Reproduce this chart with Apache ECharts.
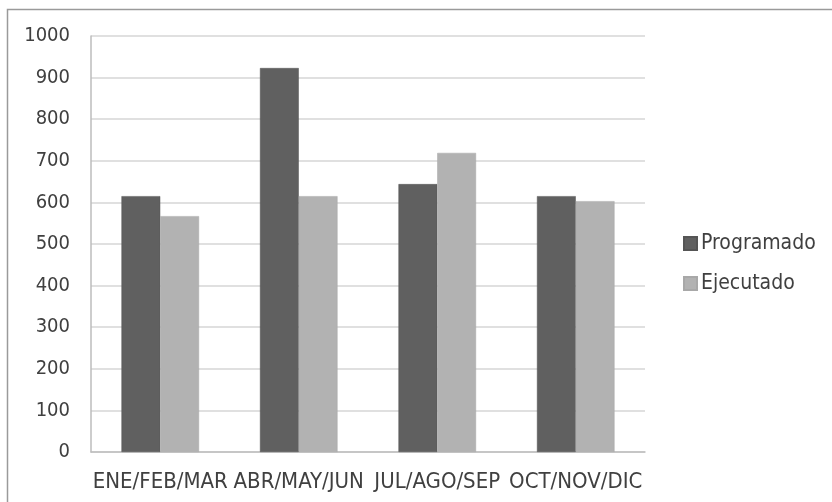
<!DOCTYPE html>
<html><head><meta charset="utf-8">
<script src="https://cdn.jsdelivr.net/npm/echarts@6/dist/echarts.min.js"></script>
<style>html,body{margin:0;padding:0;background:#fff}#c{width:832px;height:502px}</style>
</head><body><div id="c"></div>
<script>
var categories = ['ENE/FEB/MAR', 'ABR/MAY/JUN', 'JUL/AGO/SEP', 'OCT/NOV/DIC'];
var programado = [615, 923, 644, 615];
var ejecutado = [567, 615, 719, 603];
var yTicks = [0, 100, 200, 300, 400, 500, 600, 700, 800, 900, 1000];

var font = '"DejaVu Sans Condensed", "Liberation Sans Narrow", sans-serif';
var chart = echarts.init(document.getElementById('c'));
chart.setOption({
  animation: false,
  backgroundColor: '#fff',
  graphic: [{type: 'rect', shape: {x: 7.5, y: 9.5, width: 830, height: 500}, style: {fill: 'none', stroke: '#9a9a9a', lineWidth: 1.5}, z: -1}],
  grid: {left: 91, top: 36, right: 187, bottom: 50},
  legend: {
    orient: 'vertical', left: 678, top: 228, itemGap: 19, itemWidth: 13, itemHeight: 13,
    icon: 'rect',
    textStyle: {fontFamily: font, fontSize: 21, color: '#404040', padding: [0, 0, 0, -1]},
    data: ['Programado', 'Ejecutado']
  },
  xAxis: {
    type: 'category', data: categories,
    axisLine: {lineStyle: {color: '#bdbdbd', width: 1.5}},
    axisTick: {show: false},
    axisLabel: {interval: 0, color: '#404040', fontFamily: font, fontSize: 22, margin: 19}
  },
  yAxis: {
    type: 'value', min: 0, max: 1000, interval: 100,
    axisLine: {show: true, lineStyle: {color: '#bdbdbd', width: 1.5}},
    axisTick: {show: false},
    splitLine: {lineStyle: {color: '#d6d6d6', width: 1.5}},
    axisLabel: {color: '#404040', fontFamily: font, fontSize: 20, margin: 21,
      formatter: function (v) { return yTicks.indexOf(v) >= 0 ? String(v) : ''; }}
  },
  series: [
    {name: 'Programado', type: 'bar', data: programado, barGap: '0%', barCategoryGap: '44%',
     itemStyle: {color: '#606060', borderColor: '#555', borderWidth: 0.5}},
    {name: 'Ejecutado', type: 'bar', data: ejecutado,
     itemStyle: {color: '#b2b2b2', borderColor: '#a8a8a8', borderWidth: 0.5}}
  ]
});
</script></body></html>
